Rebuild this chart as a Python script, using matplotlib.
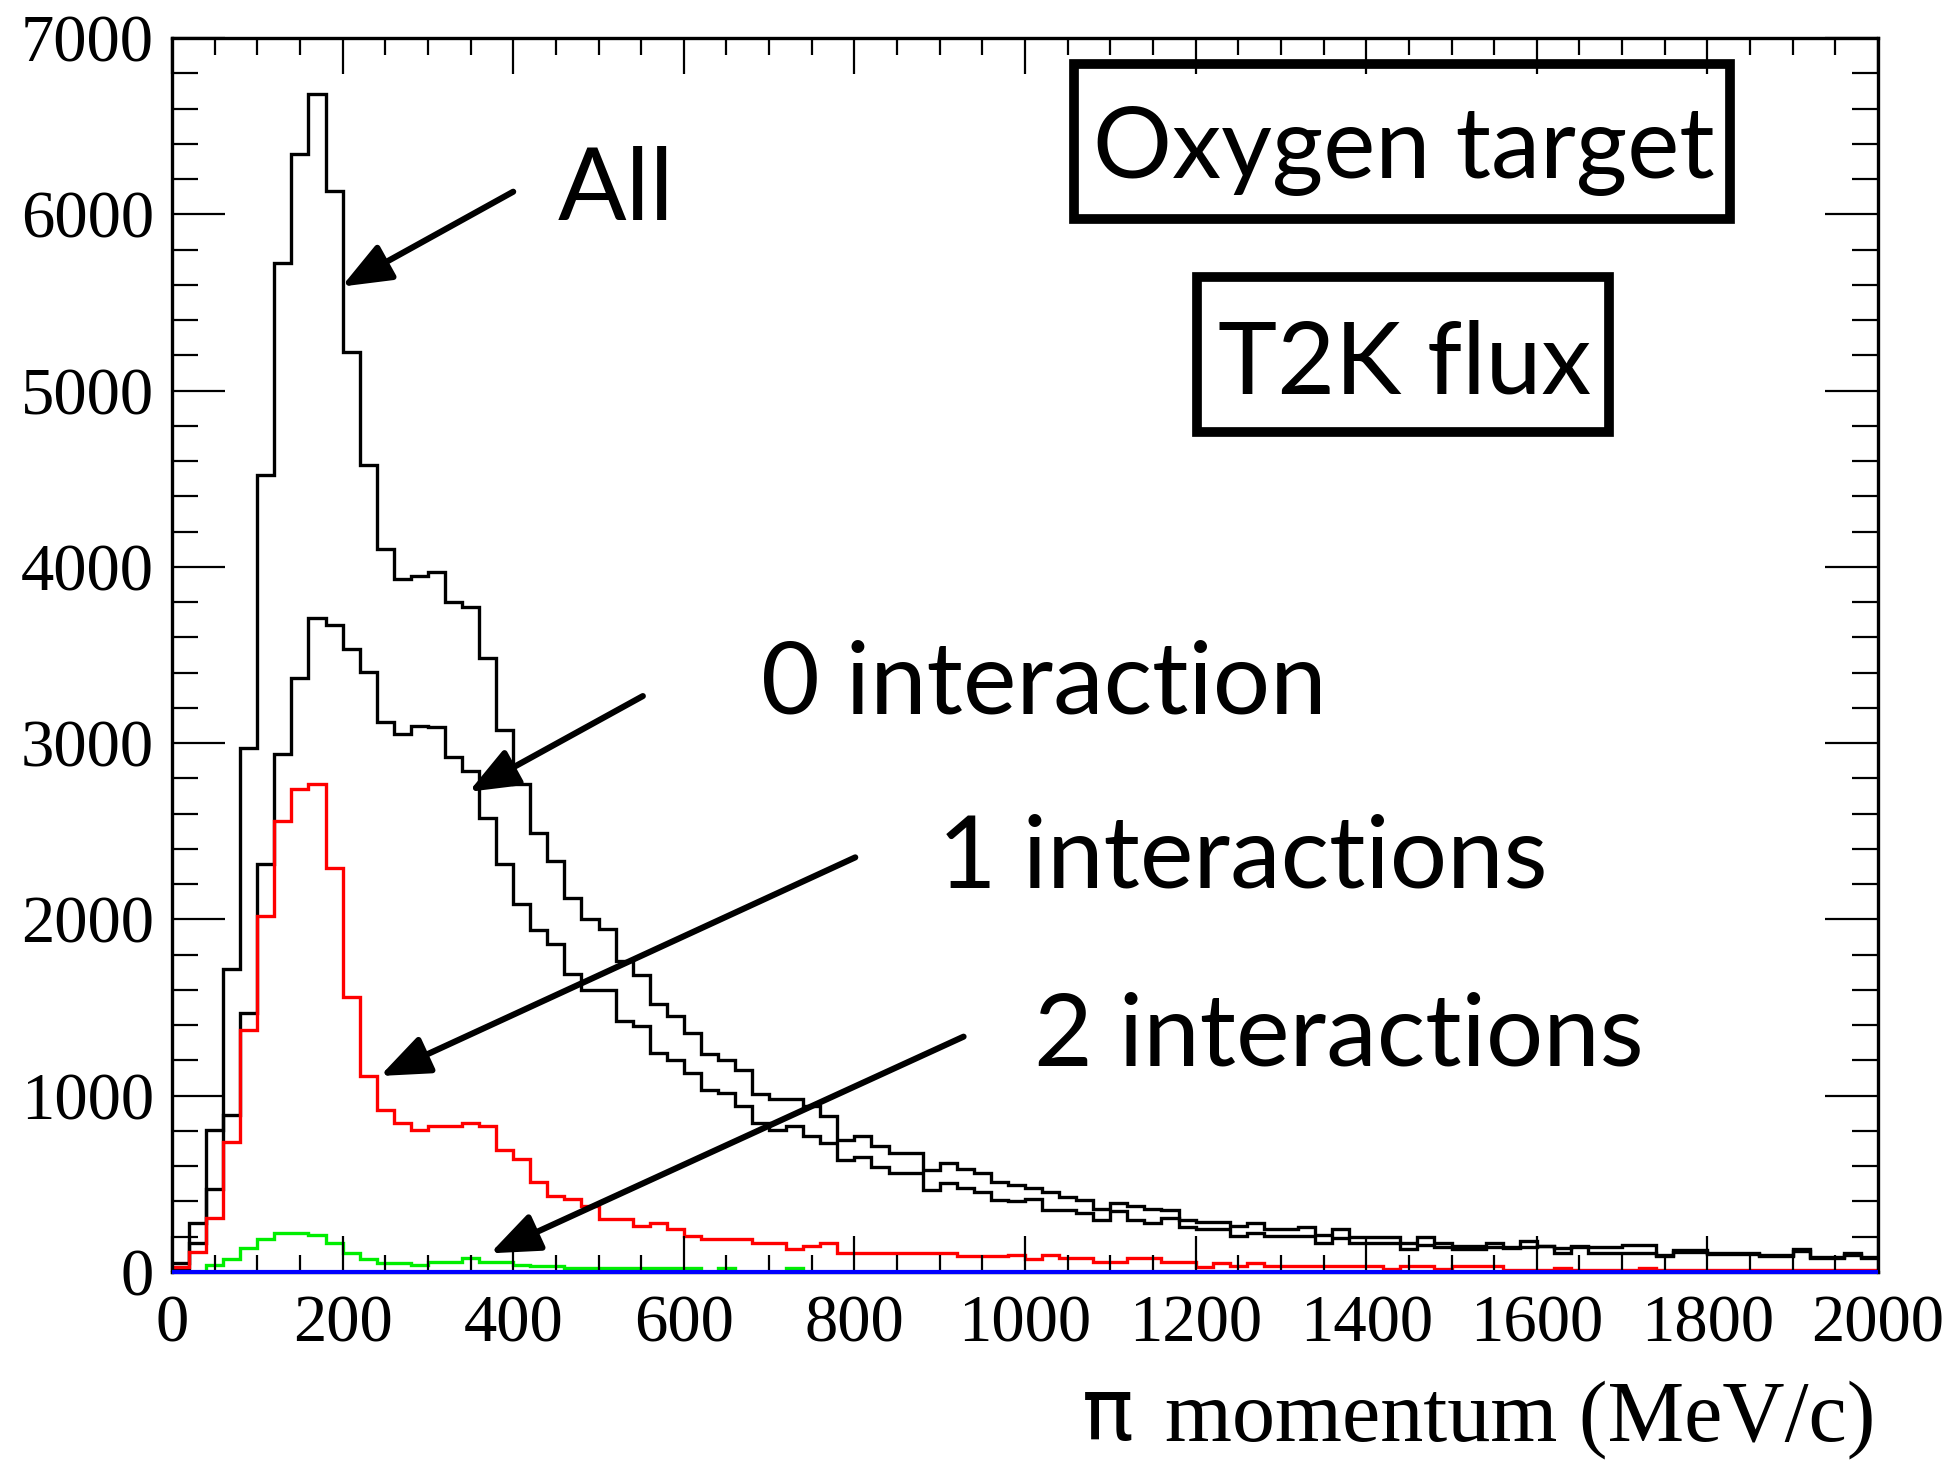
import numpy as np
import matplotlib
matplotlib.use('Agg')
import matplotlib.pyplot as plt
from matplotlib.patches import Rectangle
from matplotlib.ticker import MultipleLocator

# pi momentum histograms, 100 bins of 20 MeV/c from 0 to 2000
bin_edges = np.arange(0, 2001, 20)

all_counts = [50, 278, 807, 1716, 2975, 4519, 5722, 6341, 6682, 6133,
              5216, 4576, 4102, 3932, 3947, 3973, 3799, 3771, 3481, 3076,
              2767, 2489, 2334, 2123, 2000, 1943, 1763, 1682, 1523, 1451,
              1356, 1239, 1201, 1148, 1011, 981, 981, 939, 883, 750,
              769, 716, 674, 674, 580, 617, 583, 561, 508, 495,
              475, 451, 428, 409, 356, 394, 375, 356, 352, 295,
              286, 286, 261, 280, 242, 242, 258, 210, 242, 197,
              197, 197, 163, 197, 163, 148, 148, 163, 140, 178,
              150, 135, 148, 140, 140, 152, 152, 95, 125, 125,
              110, 110, 110, 95, 95, 128, 87, 87, 105, 87]

zero_int = [20, 165, 471, 888, 1472, 2312, 2938, 3367, 3708, 3670,
            3534, 3405, 3121, 3051, 3098, 3089, 2919, 2843, 2578, 2312,
            2085, 1940, 1858, 1688, 1602, 1602, 1422, 1394, 1242, 1205,
            1129, 1034, 1015, 939, 845, 807, 826, 769, 731, 636,
            655, 598, 561, 561, 466, 504, 475, 456, 409, 400,
            413, 352, 352, 333, 295, 348, 295, 277, 305, 258,
            242, 242, 205, 223, 205, 205, 205, 163, 191, 163,
            163, 163, 129, 153, 144, 129, 129, 144, 134, 140,
            145, 107, 140, 110, 110, 107, 107, 90, 115, 115,
            100, 100, 100, 88, 88, 118, 80, 80, 95, 80]

one_int = [30, 115, 307, 735, 1375, 2019, 2559, 2742, 2767, 2294,
           1560, 1110, 917, 845, 807, 831, 831, 845, 831, 693,
           640, 508, 432, 413, 375, 299, 299, 261, 280, 242,
           205, 186, 186, 186, 167, 167, 129, 148, 167, 110,
           110, 110, 110, 110, 110, 110, 91, 91, 91, 97,
           72, 97, 78, 78, 59, 59, 78, 78, 59, 59,
           30, 53, 34, 53, 34, 34, 34, 34, 34, 34,
           34, 15, 34, 34, 15, 34, 34, 34, 12, 12,
           12, 25, 10, 10, 10, 10, 25, 10, 10, 10,
           10, 10, 10, 10, 10, 10, 10, 10, 10, 10]

two_int = [0, 0, 40, 72, 135, 186, 224, 224, 210, 167,
           110, 72, 53, 53, 40, 55, 55, 78, 55, 55,
           40, 35, 35, 21, 21, 21, 21, 21, 21, 21,
           21, 0, 21, 0, 0, 0, 21, 0, 0, 0] + [0] * 60

more_int = [0] * 100

W, H = 1953, 1466
fig = plt.figure(figsize=(W / 100, H / 100), dpi=100)
ax = fig.add_axes([172 / W, 1 - 1272 / H, (1878 - 172) / W, (1272 - 38) / H])

ax.stairs(all_counts, bin_edges, color='black', lw=2.4, baseline=None)
ax.stairs(zero_int, bin_edges, color='black', lw=2.4, baseline=None)
ax.stairs(one_int, bin_edges, color='#ff0000', lw=2.4, baseline=None)
ax.stairs(two_int, bin_edges, color='#00ee00', lw=2.4, baseline=None)
ax.stairs(more_int, bin_edges, color='#0000ff', lw=3.0, baseline=None,
          clip_on=False, zorder=4)

ax.set_xlim(0, 2000)
ax.set_ylim(0, 7000)
ax.xaxis.set_major_locator(MultipleLocator(200))
ax.xaxis.set_minor_locator(MultipleLocator(50))
ax.yaxis.set_major_locator(MultipleLocator(1000))
ax.yaxis.set_minor_locator(MultipleLocator(200))
ax.tick_params(which='both', direction='in', top=True, right=True, width=1.6)
ax.tick_params(axis='x', which='major', length=26, pad=16)
ax.tick_params(axis='x', which='minor', length=12)
ax.tick_params(axis='y', which='major', length=38, pad=13)
ax.tick_params(axis='y', which='minor', length=19)
for lab in ax.get_xticklabels() + ax.get_yticklabels():
    lab.set_family('Liberation Serif')
    lab.set_fontsize(48)
for sp in ax.spines.values():
    sp.set_linewidth(2.4)

# axis title
fig.text(1875 / W, 1 - 1440 / H, 'momentum (MeV/c)', family='Liberation Serif',
         fontsize=62, ha='right', va='baseline')
fig.text(1108 / W, 1 - 1440 / H, 'π', family='DejaVu Sans', fontsize=62,
         ha='center', va='baseline')

# labelled boxes
def box(x0, y0, x1, y1):
    fig.add_artist(Rectangle((x0 / W, 1 - y1 / H), (x1 - x0) / W, (y1 - y0) / H,
                             transform=fig.transFigure, fill=False, lw=7, ec='black'))

box(1074, 64, 1730, 219)
box(1197, 277, 1609, 432)
fig.text(1404 / W, 1 - 178 / H, 'Oxygen target', family='Lato', fontsize=71,
         ha='center', va='baseline')
fig.text(1405 / W, 1 - 393 / H, 'T2K flux', family='Lato', fontsize=72,
         ha='center', va='baseline')

# labels with arrows
labels = ['All', '0 interaction', '1 interactions', '2 interactions']
label_px = [(558, 220), (761, 714), (938, 888), (1034, 1066)]
arrow_tips = [(199, 5590), (348, 2724), (244, 1112), (373, 106)]
arrow_tails = [(400, 6128), (552, 3267), (801, 2352), (928, 1335)]

for lab, (px, py) in zip(labels, label_px):
    fig.text(px / W, 1 - py / H, lab, family='Lato', fontsize=73, va='baseline')

for tip, tail in zip(arrow_tips, arrow_tails):
    ax.annotate('', xy=tip, xytext=tail,
                arrowprops=dict(arrowstyle='-|>,head_length=3.0,head_width=1.2',
                                lw=4.4, color='black', shrinkA=0, shrinkB=0,
                                mutation_scale=10))

fig.savefig('out.png', dpi=100)
